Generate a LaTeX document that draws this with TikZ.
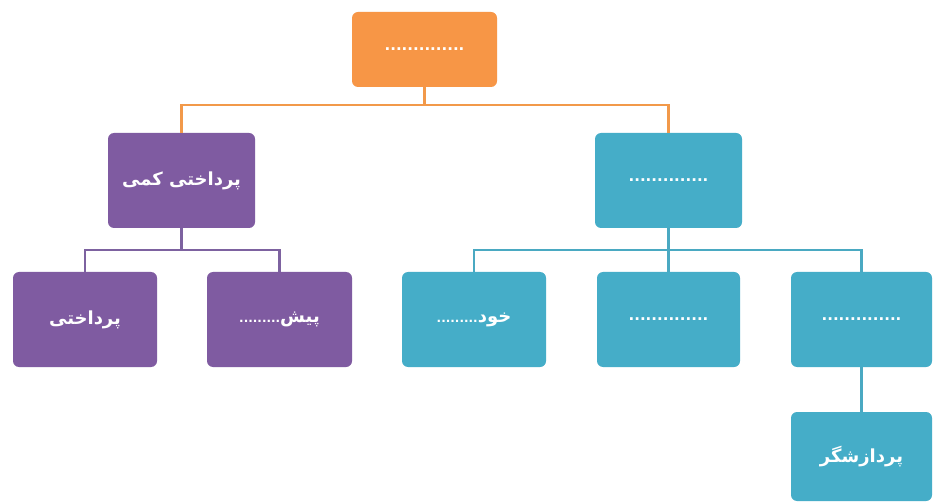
\documentclass[tikz,border=0pt]{standalone}
\usepackage{fontspec}
\newfontfamily\arabicfont[Script=Arabic]{DejaVu Sans}
\TeXXeTstate=1
\definecolor{orangebox}{HTML}{F79646}
\definecolor{purplebox}{HTML}{7F5BA1}
\definecolor{tealbox}{HTML}{45ADC8}
\definecolor{orangeline}{HTML}{F2994A}
\definecolor{purpleline}{HTML}{7D62A0}
\definecolor{tealline}{HTML}{4AA9C2}
\newcommand{\dotrow}{{\fontsize{15}{17}\selectfont\bfseries ..............}}
\newcommand{\shortdots}{{\fontsize{12}{14}\selectfont\bfseries .........}}
\begin{document}
\begin{tikzpicture}[x=1pt,y=-1pt,
  box/.style={rounded corners=6pt,minimum width=145pt,minimum height=95pt,inner sep=0pt,
    text=white,font=\arabicfont\bfseries\fontsize{18}{21}\selectfont},
  obox/.style={box,fill=orangebox,minimum height=75pt},
  pbox/.style={box,fill=purplebox},
  tbox/.style={box,fill=tealbox},
  oline/.style={draw=orangeline,line width=2.6pt},
  pline/.style={draw=purpleline,line width=2.6pt},
  tline/.style={draw=tealline,line width=2.6pt}
]
\useasboundingbox[fill=white] (0,0) rectangle (933,502);
% nodes
\node[obox] (top) at (424.5,49.5) {\dotrow};
\node[pbox,minimum width=147pt] (pp) at (181.5,180.5) {\beginR پرداختی کمی\endR};
\node[tbox,minimum width=147pt] (tp) at (668.5,180.5) {\dotrow};
\node[pbox,minimum width=144pt] (pc1) at (85,319.5) {\beginR پرداختی\endR};
\node[pbox] (pc2) at (279.5,319.5) {\beginR پیش\shortdots\endR};
\node[tbox,minimum width=144pt] (tc1) at (474,319.5) {\beginR خود\shortdots\endR};
\node[tbox,minimum width=143pt] (tc2) at (668.5,319.5) {\dotrow};
\node[tbox,minimum width=141pt] (tc3) at (861.5,319.5) {\dotrow};
\node[tbox,minimum width=141pt,minimum height=89pt] (tc4) at (861.5,456.5) {\beginR پردازشگر\endR};
% bus coordinates
\coordinate (ob) at (424.5,105);
\coordinate (pb) at (181.5,250);
\coordinate (tb) at (668.5,250);
% connectors
\draw[oline] (top.south) -- (ob);
\draw[oline] (ob) -| (pp.north);
\draw[oline] (ob) -| (tp.north);
\draw[pline] (pp.south) -- (pb);
\draw[pline] (pb) -| (pc1.north);
\draw[pline] (pb) -| (pc2.north);
\draw[tline] (tp.south) -- (tb);
\draw[tline] (tb) -| (tc1.north);
\draw[tline] (tb) -- (tc2.north);
\draw[tline] (tb) -| (tc3.north);
\draw[tline] (tc3.south) -- (tc4.north);
\end{tikzpicture}
\end{document}
